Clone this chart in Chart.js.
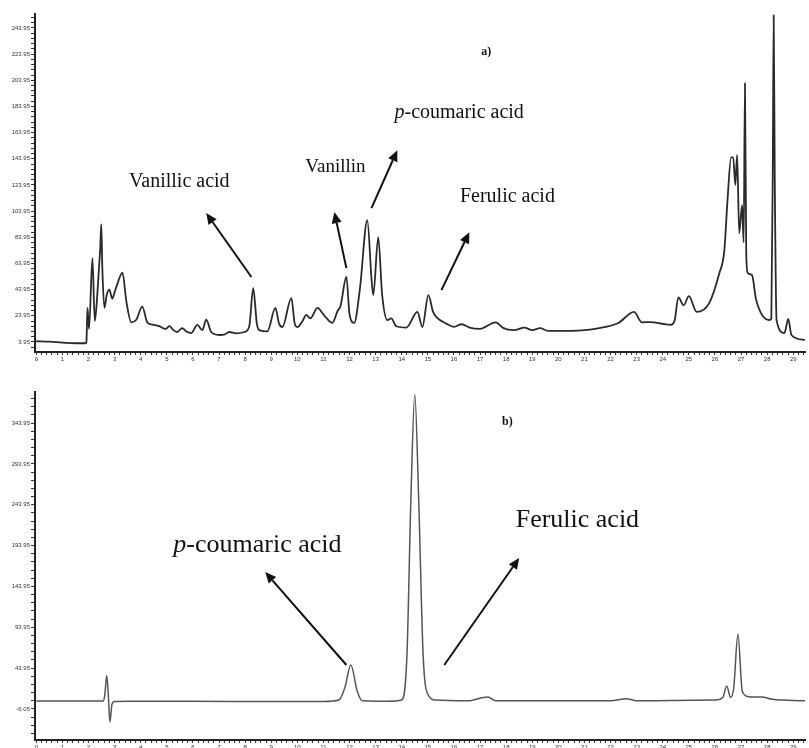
<!DOCTYPE html>
<html><head><meta charset="utf-8">
<script src="https://cdn.jsdelivr.net/npm/chart.js@4.4.0/dist/chart.umd.min.js"></script>
<style>
html,body{margin:0;padding:0;background:#fff;overflow:hidden;width:809px;height:748px}
#wa{position:absolute;left:0;top:0;width:809px;height:370px}
#wb{position:absolute;left:0;top:370px;width:809px;height:388px}
</style></head><body>
<div id="wa"><canvas id="ca"></canvas></div>
<div id="wb"><canvas id="cb"></canvas></div>
<script>
// ---- Panel a) chromatogram (time in min, signal) ----
const timeA = [0.00,0.5,1.0,1.5,1.90,1.92,1.96,2.02,2.15,2.24,2.30,2.40,2.45,2.49,2.53,2.61,2.70,2.80,2.91,3.00,3.10,3.30,3.45,3.64,3.83,4.06,4.25,4.50,4.71,4.95,5.10,5.25,5.40,5.59,5.75,5.94,6.17,6.36,6.51,6.70,7.01,7.20,7.39,7.66,7.97,8.16,8.31,8.45,8.54,8.85,9.16,9.30,9.43,9.77,9.90,10.00,10.20,10.34,10.50,10.77,11.00,11.11,11.34,11.55,11.65,11.88,12.00,12.18,12.40,12.68,12.85,12.91,13.10,13.25,13.45,13.60,13.79,14.18,14.60,14.79,15.02,15.20,15.33,15.71,16.00,16.30,16.60,17.00,17.60,17.90,18.30,18.70,19.00,19.30,19.60,20.50,21.57,22.30,22.90,23.20,23.50,24.30,24.45,24.60,24.80,25.00,25.30,25.78,26.17,26.36,26.48,26.62,26.70,26.78,26.85,26.93,27.04,27.10,27.15,27.20,27.26,27.42,27.58,28.08,28.16,28.22,28.25,28.29,28.36,28.66,28.81,28.93,29.45];
const signalA = [4.5,4.2,3.5,3.0,3.0,4,30,14,68,20,30,60,76,94,60,30,40,44,37,42,48,57,35,19,21,31,19,17,16,14,16,13,11.6,14.6,12,10.8,17,13,21,11.6,9.3,9.5,11.6,10.5,11.6,16,45,18,13,12,30,18,15.4,37.5,18,15.4,20,24.6,22,30,25,22.3,18.5,28,31,53.6,25,18.5,45,97,50,39.8,84,40,20.7,22,16,15,27,15.4,39.8,27,23,18,15.5,17.5,15,14,19,14.5,13,15,13,14.5,12.5,12.5,14.6,18.5,27,19,19.2,17,20,38,32,39,27,33.7,56.6,74,112,145,145,124,147,87,108.5,80,201.6,70,56.6,55,36,20.7,22,150,253.6,133,20.7,10.8,21.5,9.3,5.5];

// ---- Panel b) chromatogram ----
const timeB = [0,2.40,2.55,2.62,2.70,2.76,2.82,2.90,3.0,3.5,6,9,11,11.6,11.82,12.05,12.3,12.5,13.5,14.0,14.2,14.35,14.5,14.65,14.82,15.0,15.3,16.5,17.3,17.6,22.0,22.6,23.0,26.0,26.3,26.45,26.6,26.72,26.88,27.05,27.3,27.8,28.2,29.45];
const signalB = [3.7,3.7,3.5,10,35,10,-22,0,3,3.5,3.5,3,3.2,5,20,47.8,15,4,3.5,5,60,250,379,250,60,12,5,4,8.6,4,4,6.5,4,5,8,22,8,20,85.7,15,9,8.5,6,4];

// ---- Tick labels ----
const xMajor = [0,1,2,3,4,5,6,7,8,9,10,11,12,13,14,15,16,17,18,19,20,21,22,23,24,25,26,27,28,29];
const yMajorA = [3.95,23.95,43.95,63.95,83.95,103.95,123.95,143.95,163.95,183.95,203.95,223.95,243.95];
const yLabelsA = ['3.95','23.95','43.95','63.95','83.95','103.95','123.95','143.95','163.95','183.95','203.95','223.95','243.95'];
const yMajorB = [-6.05,43.95,93.95,143.95,193.95,243.95,293.95,343.95];
const yLabelsB = ['-6.05','43.95','93.95','143.95','193.95','243.95','293.95','343.95'];

// ---- Annotations (data coordinates) ----
const annotA = [
  {parts:[['a)','bold']], x:17.24, y:225.3, size:12},
  {parts:[['Vanillic acid','']], x:5.48, y:126.1, size:20},
  {parts:[['Vanillin','']], x:11.46, y:137.5, size:19},
  {parts:[['p','italic'],['-coumaric acid','']], x:16.2, y:178.8, size:20},
  {parts:[['Ferulic acid','']], x:18.05, y:114.6, size:20}
];
const arrowsA = [
  [8.24,53.6,6.51,102.5],
  [11.88,60.4,11.42,103.2],
  [12.84,106.2,13.83,150.5],
  [15.52,43.6,16.59,87.9]
];
const annotB = [
  {parts:[['b)','bold']], x:18.05, y:345.2, size:12},
  {parts:[['p','italic'],['-coumaric acid','']], x:8.47, y:194.7, size:26},
  {parts:[['Ferulic acid','']], x:20.73, y:225.3, size:26}
];
const arrowsB = [
  [11.88,47.8,8.77,161.6],
  [15.63,47.8,18.5,178.8]
];

function withMinor(majors, step, sub, min, max){
  const out=[];
  const start = majors[0];
  const n0 = Math.ceil((min-start)/(step/sub));
  const n1 = Math.floor((max-start)/(step/sub));
  for(let i=n0;i<=n1;i++){ out.push({value: +(start + i*step/sub).toFixed(4)}); }
  return out;
}
function labelFor(v, majors, labels){
  for(let i=0;i<majors.length;i++){ if(Math.abs(majors[i]-v)<1e-3) return labels[i]; }
  return '';
}

const annotPlugin = {
  id:'annot',
  afterDraw(chart, args, opts){
    const ctx=chart.ctx, xs=chart.scales.x, ys=chart.scales.y;
    ctx.save();
    ctx.fillStyle='#111'; ctx.strokeStyle='#111';
    (opts.texts||[]).forEach(t=>{
      const px=xs.getPixelForValue(t.x), py=ys.getPixelForValue(t.y);
      const fonts=t.parts.map(p=>(p[1]==='bold'?'bold ':p[1]==='italic'?'italic ':'')+t.size+'px "Liberation Serif", "Times New Roman", serif');
      let w=0; t.parts.forEach((p,i)=>{ctx.font=fonts[i]; w+=ctx.measureText(p[0]).width;});
      let cx=px-w/2;
      ctx.textBaseline='middle'; ctx.textAlign='left';
      t.parts.forEach((p,i)=>{ctx.font=fonts[i]; ctx.fillText(p[0],cx,py); cx+=ctx.measureText(p[0]).width;});
    });
    (opts.arrows||[]).forEach(a=>{
      const x1=xs.getPixelForValue(a[0]), y1=ys.getPixelForValue(a[1]);
      const x2=xs.getPixelForValue(a[2]), y2=ys.getPixelForValue(a[3]);
      const ang=Math.atan2(y2-y1,x2-x1), hl=11, hw=5;
      const bx=x2-hl*Math.cos(ang), by=y2-hl*Math.sin(ang);
      ctx.lineWidth=2;
      ctx.beginPath(); ctx.moveTo(x1,y1); ctx.lineTo(bx,by); ctx.stroke();
      ctx.beginPath(); ctx.moveTo(x2,y2);
      ctx.lineTo(bx+hw*Math.sin(ang), by-hw*Math.cos(ang));
      ctx.lineTo(bx-hw*Math.sin(ang), by+hw*Math.cos(ang));
      ctx.closePath(); ctx.fill();
    });
    ctx.restore();
  }
};

function makeChart(id, xs, ys, yMin, yMax, yMajor, yLabels, yStep, ySub, padTop, texts, arrows, lineColor, lineW){
  const data = xs.map((x,i)=>({x:x, y:ys[i]}));
  return new Chart(document.getElementById(id), {
    type:'scatter',
    data:{datasets:[{data:data, showLine:true, borderColor:lineColor, borderWidth:lineW, pointRadius:0, fill:false, cubicInterpolationMode:'monotone'}]},
    options:{
      responsive:true, maintainAspectRatio:false, animation:false,
      layout:{padding:{top:padTop, right:4, left:0, bottom:0}},
      plugins:{legend:{display:false}, tooltip:{enabled:false}, annot:{texts:texts, arrows:arrows}},
      scales:{
        x:{type:'linear', min:-0.05, max:29.45,
          afterBuildTicks(s){ s.ticks = withMinor(xMajor, 1, 5, -0.05, 29.45); },
          afterFit(s){ s.height=18; },
          ticks:{autoSkip:false, maxRotation:0, padding:1, color:'#333', font:{size:6, family:'"Liberation Sans", Arial, sans-serif'},
            callback(v){ return labelFor(v, xMajor, xMajor.map(String)); }},
          grid:{display:true, drawOnChartArea:false, drawTicks:true, tickLength:3, color:'#333', lineWidth:1},
          border:{display:true, color:'#222', width:2}
        },
        y:{type:'linear', min:yMin, max:yMax,
          afterBuildTicks(s){ s.ticks = withMinor(yMajor, yStep, ySub, yMin, yMax); },
          afterFit(s){ s.width=35; },
          ticks:{autoSkip:false, padding:1, color:'#333', font:{size:6, family:'"Liberation Sans", Arial, sans-serif'},
            callback(v){ return labelFor(v, yMajor, yLabels); }},
          grid:{display:true, drawOnChartArea:false, drawTicks:true, tickLength:4, color:'#333', lineWidth:1},
          border:{display:true, color:'#222', width:2}
        }
      }
    },
    plugins:[annotPlugin]
  });
}

makeChart('ca', timeA, signalA, -3.7, 254.6, yMajorA, yLabelsA, 20, 5, 14, annotA, arrowsA, '#2a2a2a', 1.8);
makeChart('cb', timeB, signalB, -44, 382, yMajorB, yLabelsB, 50, 5, 22, annotB, arrowsB, '#555', 1.5);
</script>
</body></html>
